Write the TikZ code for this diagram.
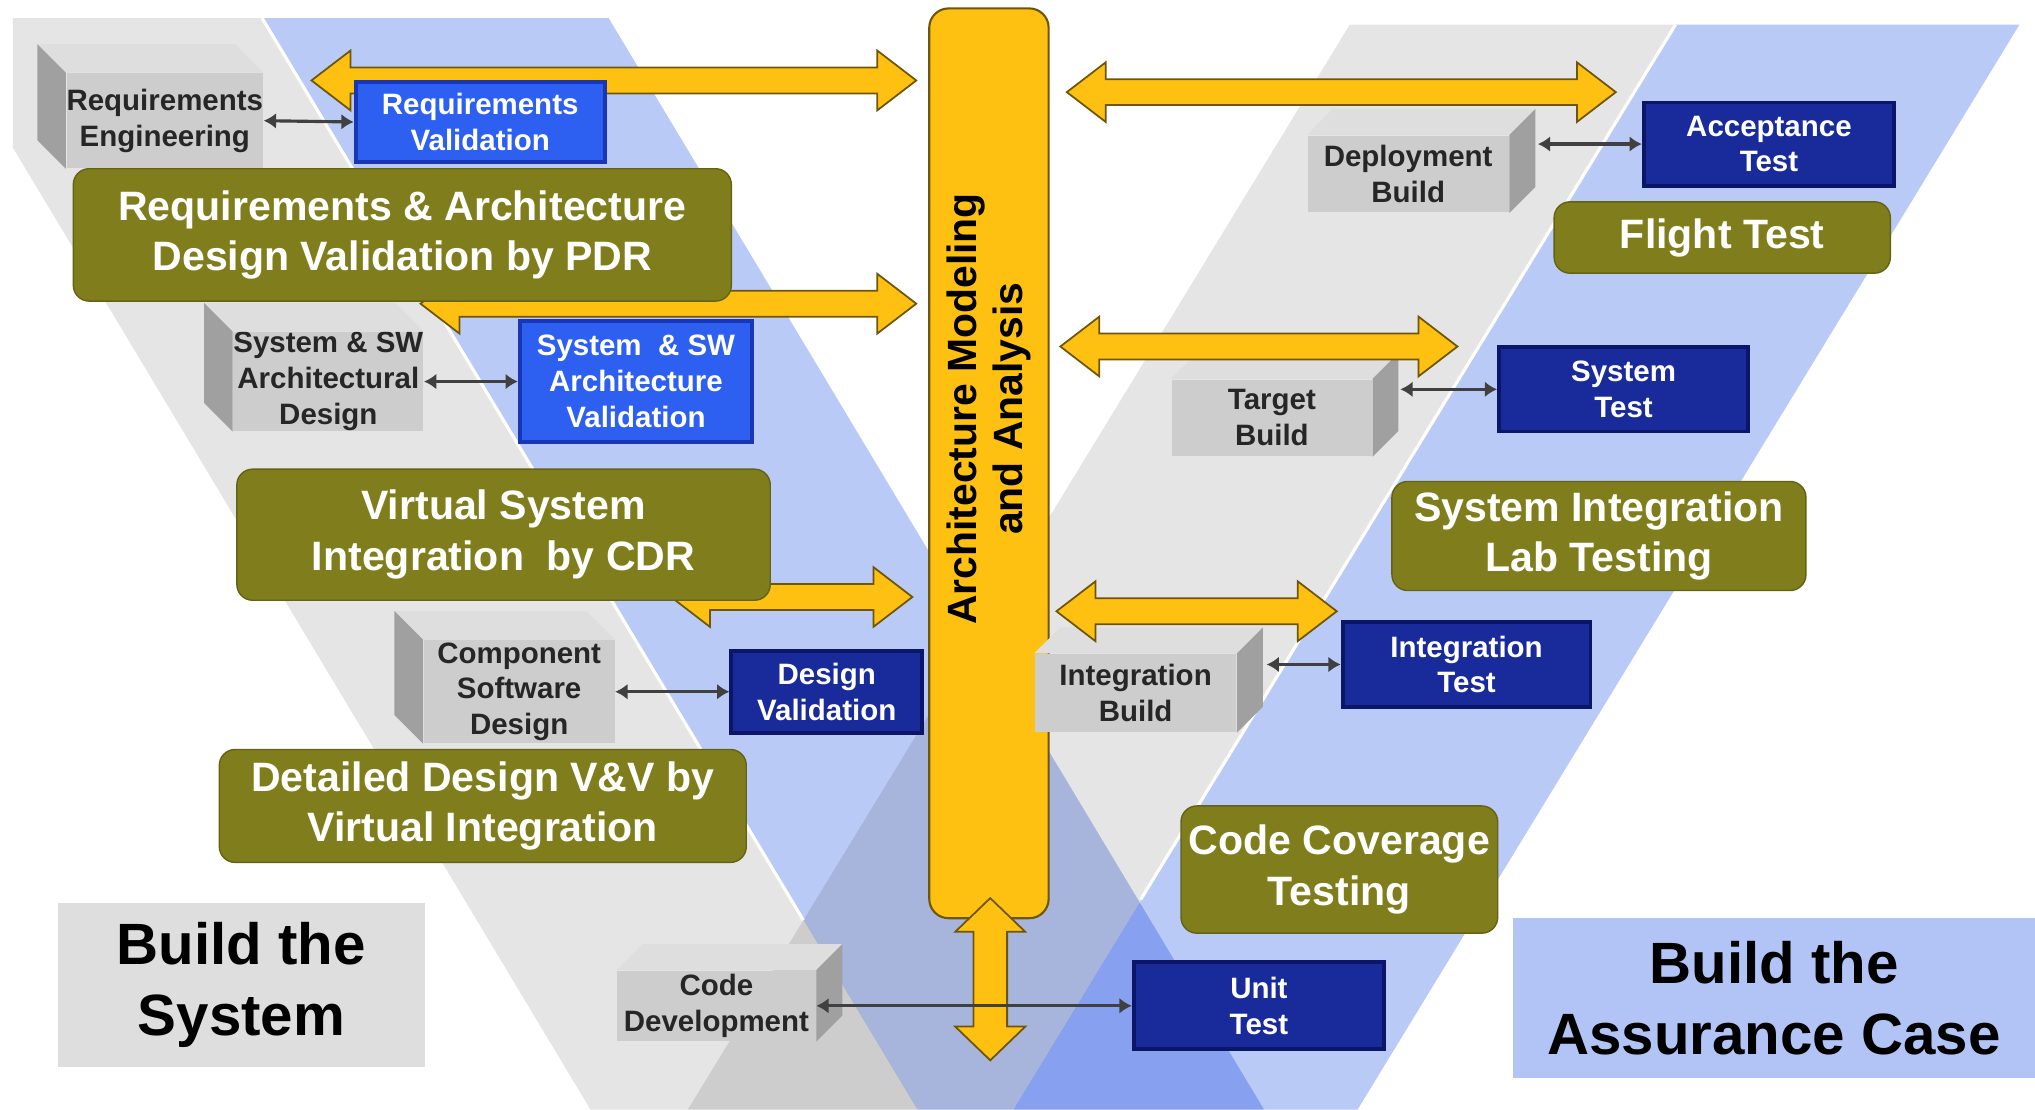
\documentclass[tikz,border=0pt]{standalone}
\usepackage{fontspec}
\setmainfont{Liberation Sans}
\usetikzlibrary{arrows.meta}

\newcommand\dpx{0.013cm}
% big yellow double arrows
\newcommand\yarrowh[3]{%
  \filldraw[bigarrow] (#1,#3) -- (#1+30,#3-23) -- (#1+30,#3-10) -- (#2-30,#3-10)
    -- (#2-30,#3-23) -- (#2,#3) -- (#2-30,#3+23) -- (#2-30,#3+10)
    -- (#1+30,#3+10) -- (#1+30,#3+23) -- cycle;}
\newcommand\yarrowv[3]{%
  \filldraw[bigarrow] (#1,#2) -- (#1+27,#2+26) -- (#1+13,#2+26) -- (#1+13,#3-26)
    -- (#1+27,#3-26) -- (#1,#3) -- (#1-27,#3-26) -- (#1-13,#3-26)
    -- (#1-13,#2+26) -- (#1-27,#2+26) -- cycle;}

\definecolor{bandgray}{RGB}{229,229,229}
\definecolor{bandblue}{RGB}{186,202,247}
\definecolor{boxgray}{RGB}{205,205,205}
\definecolor{graytopc}{RGB}{222,222,222}
\definecolor{graysidec}{RGB}{160,160,160}
\definecolor{olivec}{RGB}{128,126,28}
\definecolor{oliveedge}{RGB}{100,98,20}
\definecolor{archyellow}{RGB}{254,192,17}
\definecolor{archedge}{RGB}{110,85,10}
\definecolor{brightblue}{RGB}{45,95,240}
\definecolor{brightedge}{RGB}{25,55,180}
\definecolor{navyblue}{RGB}{25,42,155}
\definecolor{navyedge}{RGB}{12,22,105}
\definecolor{sysgray}{RGB}{222,222,222}
\definecolor{acblue}{RGB}{178,196,246}

\tikzset{
  boxfont/.style={font=\fontsize{8.4}{10.2}\selectfont\bfseries},
  graybox/.style={boxfont, fill=boxgray, text=black!85, align=center, inner sep=0pt},
  graytop/.style={fill=graytopc},
  grayside/.style={fill=graysidec},
  bluebox/.style={boxfont, fill=brightblue, draw=brightedge, line width=1.1pt,
    text=white, align=center, inner sep=0pt},
  navybox/.style={bluebox, fill=navyblue, draw=navyedge},
  olivebox/.style={font=\fontsize{11.7}{14.4}\selectfont\bfseries, fill=olivec,
    draw=oliveedge, rounded corners=4.5pt, text=white, align=center, inner sep=0pt},
  labelbox/.style={font=\fontsize{16.6}{20.3}\selectfont\bfseries, text=black,
    align=center, inner sep=0pt},
  archbox/.style={fill=archyellow, draw=archedge, line width=0.6pt, rounded corners=5.5pt},
  archfont/.style={font=\fontsize{11.65}{12.9}\selectfont\bfseries, align=center, inner sep=0pt},
  bigarrow/.style={fill=archyellow, draw=archedge, line width=0.5pt},
  link/.style={<->, >={Latex[length=3.5pt,width=4.5pt]}, line width=0.9pt, black!75}
}

\begin{document}
\begin{tikzpicture}[x=0.013cm, y=-0.013cm]
  \useasboundingbox (0,0) rectangle (1568,855);

  % the V bands
  \begin{scope}
    \clip (10,14) rectangle (1568,855);
    \begin{scope}[blend mode=multiply]
      \fill[bandgray] (-50,14) -- (202,14) -- (707,855) -- (455,855) -- cycle;
      \fill[bandblue] (202,14) -- (469,14) -- (974,855) -- (707,855) -- cycle;
      \fill[bandgray] (1040,19) -- (1291,19) -- (781,855) -- (530,855) -- cycle;
      \fill[bandblue] (1291,19) -- (1556,19) -- (1046,855) -- (781,855) -- cycle;
    \end{scope}
  \end{scope}
  \draw[white, line width=0.9pt] (202,14) -- (619,709);
  \draw[white, line width=0.9pt] (1291,19) -- (879,693);

  % architecture column
  \node[archbox, minimum width=92*\dpx, minimum height=701*\dpx] (arch) at (762,357) {};
  \node[archfont, rotate=90] (archlbl) at (762,315) {Architecture Modeling\\and Analysis};

  % build steps
  \node[graybox, minimum width=150*\dpx, minimum height=73*\dpx] (reqeng) at (127,93) {Requirements\\Engineering};
  \node[graybox, minimum width=146*\dpx, minimum height=76*\dpx] (sysarch) at (253,294) {System \& SW\\Architectural\\Design};
  \node[graybox, minimum width=147*\dpx, minimum height=79*\dpx] (compdes) at (400,533) {Component\\Software\\Design};
  \node[graybox, minimum width=153*\dpx, minimum height=54*\dpx] (codedev) at (552,775) {Code\\Development};
  \node[graybox, minimum width=155*\dpx, minimum height=59*\dpx] (deploy) at (1085,134) {Deployment\\Build};
  \node[graybox, minimum width=154*\dpx, minimum height=59*\dpx] (target) at (980,322) {Target\\Build};
  \node[graybox, minimum width=155*\dpx, minimum height=60*\dpx] (intbuild) at (875,534) {Integration\\Build};

  \foreach \b in {reqeng,sysarch,compdes} {
    \fill[graytop] (\b.north west) -- ++(-22,-22) -- ([shift={(-22,-22)}]\b.north east) -- (\b.north east) -- cycle;
    \fill[grayside] (\b.north west) -- ++(-22,-22) -- ([shift={(-22,-22)}]\b.south west) -- (\b.south west) -- cycle;
  }
  \foreach \b in {deploy,target,intbuild,codedev} {
    \fill[graytop] (\b.north west) -- ++(20,-20) -- ([shift={(20,-20)}]\b.north east) -- (\b.north east) -- cycle;
    \fill[grayside] (\b.north east) -- ++(20,-20) -- ([shift={(20,-20)}]\b.south east) -- (\b.south east) -- cycle;
  }

  % links to the column
  \yarrowh{240}{706}{62}
  \yarrowh{324}{706}{234}
  \yarrowh{517}{703}{460}
  \yarrowh{822}{1245}{71}
  \yarrowh{817}{1123}{267}
  \yarrowh{814}{1030}{471}
  \yarrowv{763}{692}{817}

  % validation and test steps
  \node[bluebox, minimum width=192*\dpx, minimum height=62*\dpx] (reqval) at (370,94) {Requirements\\Validation};
  \node[bluebox, minimum width=179*\dpx, minimum height=93*\dpx] (sysval) at (490,294) {System \ \& SW\\Architecture\\Validation};
  \node[navybox, minimum width=147*\dpx, minimum height=63*\dpx] (desval) at (637,533) {Design\\Validation};
  \node[navybox, minimum width=193*\dpx, minimum height=64*\dpx] (acctest) at (1363,111) {Acceptance\\Test};
  \node[navybox, minimum width=192*\dpx, minimum height=65*\dpx] (systest) at (1251,300) {System\\Test};
  \node[navybox, minimum width=191*\dpx, minimum height=65*\dpx] (inttest) at (1130,512) {Integration\\Test};
  \node[navybox, minimum width=193*\dpx, minimum height=67*\dpx] (unittest) at (970,775) {Unit\\Test};

  % review milestones
  \node[olivebox, minimum width=507*\dpx, minimum height=102*\dpx] (pdr) at (310,181) {Requirements \& Architecture\\Design Validation by PDR};
  \node[olivebox, minimum width=411*\dpx, minimum height=101*\dpx] (cdr) at (388,412) {Virtual System\\Integration \ by CDR};
  \node[olivebox, minimum width=406*\dpx, minimum height=87*\dpx] (vint) at (372,621) {Detailed Design V\&V by\\Virtual Integration};
  \node[olivebox, minimum width=259*\dpx, minimum height=55*\dpx] (flight) at (1327,183) {Flight Test};
  \node[olivebox, minimum width=319*\dpx, minimum height=84*\dpx] (silt) at (1232,413) {System Integration\\Lab Testing};
  \node[olivebox, minimum width=244*\dpx, minimum height=98*\dpx] (ccov) at (1032,670) {Code Coverage\\Testing};

  % small links
  \coordinate (deploys) at (1185,111);
  \coordinate (targets) at (1079,300);
  \coordinate (intbuilds) at (976,512);
  \draw[link] (reqeng.east) -- (reqval.west);
  \draw[link] (sysarch.east) -- (sysval.west);
  \draw[link] (compdes.east) -- (desval.west);
  \draw[link] (codedev.east) -- (unittest.west);
  \draw[link] (deploys) -- (acctest.west);
  \draw[link] (targets) -- (systest.west);
  \draw[link] (intbuilds) -- (inttest.west);

  % side labels
  \node[labelbox, fill=sysgray, minimum width=283*\dpx, minimum height=126*\dpx] (buildsys) at (186,759) {Build the\\System};
  \node[labelbox, fill=acblue, minimum width=402*\dpx, minimum height=124*\dpx] (buildac) at (1367,769) {Build the\\Assurance Case};
\end{tikzpicture}
\end{document}
